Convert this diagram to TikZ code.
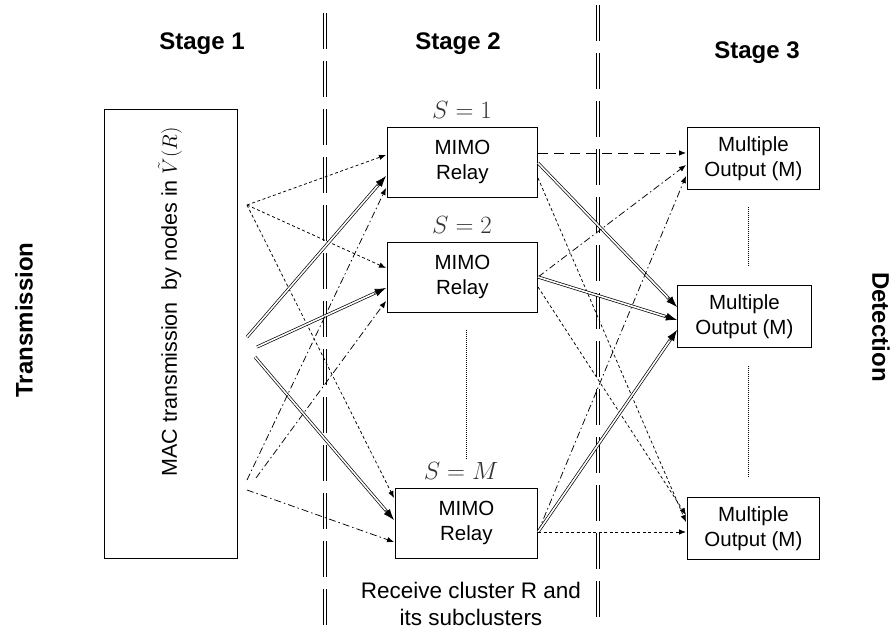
\documentclass[tikz,border=0pt]{standalone}
\usepackage{fontspec}
\setmainfont{Liberation Sans}
\usetikzlibrary{arrows.meta,calc}
\newcommand\dblconn[2]{\draw[dblline] (#1) -- (#2); \draw[dbltip] ($(#2)!13pt!(#1)$) -- (#2);}
\begin{document}
\begin{tikzpicture}[x=1pt,y=-1pt,
  box/.style={draw, line width=0.8pt, inner sep=0pt, align=center, anchor=north west, font=\fontsize{20.5}{25}\selectfont},
  stagelbl/.style={font=\fontsize{24}{28}\selectfont\bfseries},
  slbl/.style={text=black!80, font=\fontsize{23}{27}\selectfont},
  conn/.style={line width=0.75pt},
  sdash/.style={conn, dash pattern=on 3pt off 2.5pt, -{Latex[length=7pt,width=5.5pt]}},
  ldash/.style={conn, dash pattern=on 10pt off 6pt, -{Latex[length=7pt,width=5.5pt]}},
  dashdot/.style={conn, dash pattern=on 7pt off 3pt on 1.5pt off 3pt, -{Latex[length=7pt,width=5.5pt]}},
  dblline/.style={double, double distance=1.6pt, line width=0.7pt, shorten >=8pt},
  dbltip/.style={line width=0.7pt, -{Latex[length=11pt,width=8pt]}},
  sep/.style={double, double distance=2pt, line width=0.8pt, dash pattern=on 36pt off 12pt},
  vdots/.style={line width=0.6pt, dash pattern=on 1pt off 1pt}
]
\useasboundingbox[fill=white] (0,0) rectangle (895,631);

% stage headings
\node[stagelbl] (st1) at (202,44) {Stage 1};
\node[stagelbl] (st2) at (458,44) {Stage 2};
\node[stagelbl] (st3) at (757,53) {Stage 3};
\node[stagelbl, rotate=90] (tx) at (24,320) {Transmission};
\node[stagelbl, rotate=-90] (det) at (881,327) {Detection};

% separators
\coordinate (sepAt) at (325,13);  \coordinate (sepAb) at (325,631);
\coordinate (sepBt) at (598,5);   \coordinate (sepBb) at (598,623);
\draw[sep] (sepAt) -- (sepAb);
\draw[sep] (sepBt) -- (sepBb);

% boxes
\node[box, minimum width=133pt, minimum height=449pt] (mac) at (104,109) {};
\node[rotate=90, font=\fontsize{21.5}{25}\selectfont] (mactxt) at (170,302) {MAC transmission\ \ by nodes in $\tilde{V}(R)$};
\node[box, minimum width=150pt, minimum height=70pt] (s1) at (387,127) {MIMO\\Relay};
\node[box, minimum width=150pt, minimum height=70pt] (s2) at (387,242) {MIMO\\Relay};
\node[box, minimum width=142pt, minimum height=70pt] (sM) at (395,488) {MIMO\\Relay};
\node[box, minimum width=132pt, minimum height=62pt] (o1) at (687,127) {Multiple\\Output (M)};
\node[box, minimum width=134pt, minimum height=62pt] (o2) at (677,285) {Multiple\\Output (M)};
\node[box, minimum width=132pt, minimum height=62pt] (o3) at (687,497) {Multiple\\Output (M)};

\node[slbl] (l1) at (462,110) {$S=1$};
\node[slbl] (l2) at (462,225) {$S=2$};
\node[slbl] (lM) at (461,471) {$S=M$};

\node[align=center, font=\fontsize{22.5}{27}\selectfont] (recv) at (471,604) {Receive cluster R and\\its subclusters};

% dotted vertical ellipses
\coordinate (vd1t) at (466,330); \coordinate (vd1b) at (466,460);
\coordinate (vd2t) at (748,207); \coordinate (vd2b) at (748,267);
\coordinate (vd3t) at (748,366); \coordinate (vd3b) at (748,478);
\draw[vdots] (vd1t) -- (vd1b);
\draw[vdots] (vd2t) -- (vd2b);
\draw[vdots] (vd3t) -- (vd3b);

% left-side start points
\coordinate (p1) at (247,205);
\coordinate (d1) at (247,337); \coordinate (d2) at (257,347); \coordinate (d3) at (255,357);
\coordinate (c1) at (247,480); \coordinate (c2) at (256,478); \coordinate (c3) at (247,490);
% relay inputs
\coordinate (s1a) at (386,155); \coordinate (s1b) at (386,176); \coordinate (s1c) at (386,188);
\coordinate (s2a) at (386,268); \coordinate (s2b) at (386,288); \coordinate (s2c) at (386,301);
\coordinate (sMa) at (394,498); \coordinate (sMb) at (394,520); \coordinate (sMc) at (394,542);
% relay outputs
\coordinate (r1a) at (538,153); \coordinate (r1b) at (538,163); \coordinate (r1c) at (538,178);
\coordinate (r2a) at (538,277); \coordinate (r2c) at (538,287);
\coordinate (rM) at (538,532);
% output inputs
\coordinate (o1a) at (686,153); \coordinate (o1b) at (686,165); \coordinate (o1c) at (686,176);
\coordinate (o2a) at (677,307); \coordinate (o2b) at (677,320); \coordinate (o2c) at (677,330);
\coordinate (o3a) at (686,522); \coordinate (o3b) at (686,515); \coordinate (o3c) at (686,532);

% stage 1 -> stage 2
\draw[sdash] (p1) -- (s1a);
\draw[sdash] (p1) -- (s2a);
\draw[sdash] (p1) -- (sMa);
\dblconn{d1}{s1b}
\dblconn{d2}{s2b}
\dblconn{d3}{sMb}
\draw[dashdot] (c1) -- (s1c);
\draw[dashdot] (c2) -- (s2c);
\draw[dashdot] (c3) -- (sMc);

% stage 2 -> stage 3
\draw[ldash] (r1a) -- (o1a);
\dblconn{r1b}{o2a}
\draw[sdash] (r1c) -- (o3a);
\draw[dashdot] (r2a) -- (o1b);
\dblconn{r2a}{o2b}
\draw[sdash] (r2c) -- (o3b);
\draw[dashdot] (rM) -- (o1c);
\dblconn{rM}{o2c}
\draw[sdash] (rM) -- (o3c);
\end{tikzpicture}
\end{document}
